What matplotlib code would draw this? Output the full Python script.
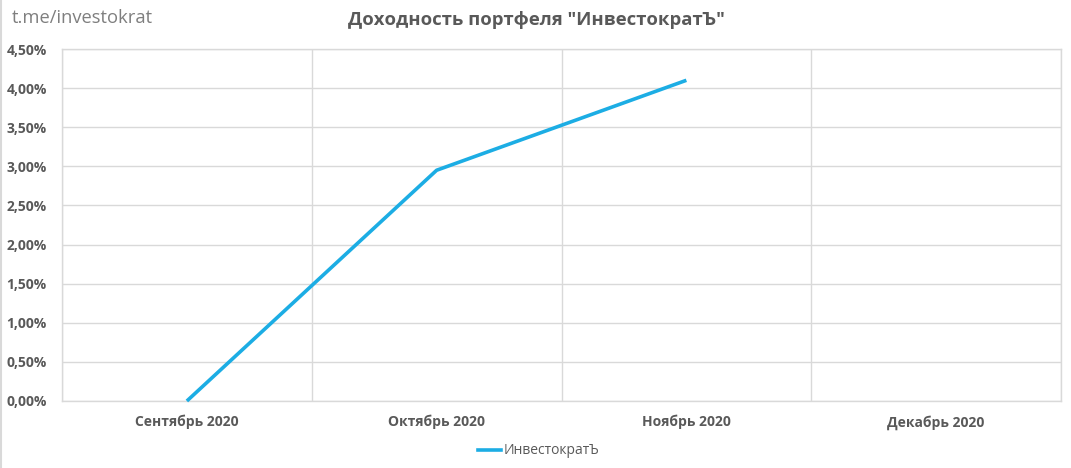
import matplotlib
matplotlib.use("Agg")
import matplotlib.pyplot as plt
from matplotlib.ticker import FuncFormatter, MultipleLocator
from matplotlib.lines import Line2D

categories = ["Сентябрь 2020", "Октябрь 2020", "Ноябрь 2020", "Декабрь 2020"]
values = [0.0, 2.95, 4.10]
series_name = "ИнвестократЪ"
title = 'Доходность портфеля "ИнвестократЪ"'
watermark = "t.me/investokrat"

plt.rcParams['font.family'] = ['Open Sans', 'DejaVu Sans']
text_color = "#595959"
grid_color = "#D9D9D9"
line_color = "#1CADE4"

fig = plt.figure(figsize=(10.71, 4.68), dpi=100)
ax = fig.add_axes([62/1071, 67/468, 999/1071, 352/468])

x = list(range(len(values)))
ax.plot(x, values, color=line_color, lw=2.6, solid_capstyle='butt', zorder=3, clip_on=False)

ax.set_xlim(-0.5, len(categories) - 0.5)
ax.set_ylim(0, 4.5)
ax.yaxis.set_major_locator(MultipleLocator(0.5))
ax.yaxis.set_major_formatter(FuncFormatter(lambda v, p: f"{v:.2f}%".replace('.', ',')))
ax.set_xticks(range(len(categories)))
ax.set_xticklabels(categories)
ax.set_xticks([i - 0.5 for i in range(len(categories) + 1)], minor=True)

ax.grid(axis='y', which='major', color=grid_color, lw=1)
ax.grid(axis='x', which='minor', color=grid_color, lw=1)
for s in ax.spines.values():
    s.set_color(grid_color)
    s.set_linewidth(1)
ax.tick_params(axis='both', which='both', length=0, colors=text_color)
ax.tick_params(axis='y', pad=11)
ax.tick_params(axis='x', pad=10)
for lbl in ax.get_xticklabels() + ax.get_yticklabels():
    lbl.set_fontweight('bold')
    lbl.set_fontsize(10)
    lbl.set_color(text_color)

fig.text(348/1071, 1 - 20/468, title, fontsize=13.3, fontweight='bold', color=text_color,
         ha='left', va='center')
fig.text(12/1071, 1 - 18/468, watermark, fontsize=13.2, color="#7F7F7F", ha='left', va='center')

handle = Line2D([], [], color=line_color, lw=2.6)
fig.legend([handle], [series_name], loc='center', bbox_to_anchor=(0.503, 1 - 451/468),
           frameon=False, fontsize=10, labelcolor=text_color, handlelength=1.6,
           handletextpad=0.2)

fig.add_artist(Line2D([1/1071, 1/1071], [0, 1], color=grid_color, lw=1.5, transform=fig.transFigure))

fig.savefig("out.png", dpi=100)
